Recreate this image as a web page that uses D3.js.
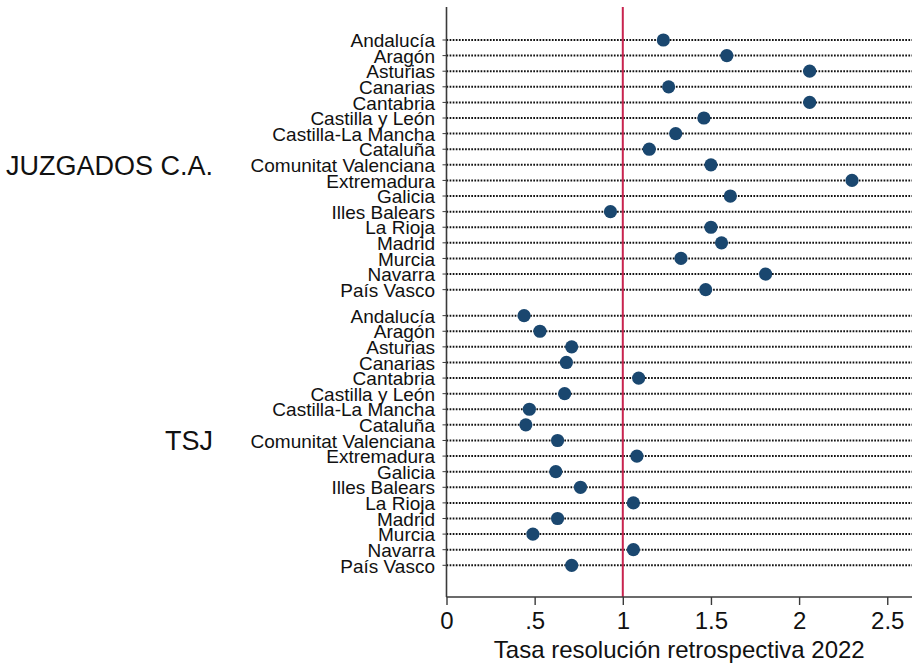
<!DOCTYPE html>
<html>
<head>
<meta charset="utf-8">
<script src="https://cdn.jsdelivr.net/npm/d3@7"></script>
<style>
  html, body { margin: 0; padding: 0; background: #fff; }
  svg { display: block; font-family: "Liberation Sans", Arial, Helvetica, sans-serif; }
</style>
</head>
<body>
<svg id="chart" width="912" height="663"></svg>
<script>
// Comunidades autónomas, same order in both groups
const regions = [
  "Andalucía", "Aragón", "Asturias", "Canarias", "Cantabria",
  "Castilla y León", "Castilla-La Mancha", "Cataluña",
  "Comunitat Valenciana", "Extremadura", "Galicia", "Illes Balears",
  "La Rioja", "Madrid", "Murcia", "Navarra", "País Vasco"
];
const groups = ["JUZGADOS C.A.", "TSJ"];

// Tasa de resolución retrospectiva 2022
const juzgadosValues = [
  1.23, 1.59, 2.06, 1.26, 2.06, 1.46, 1.30, 1.15,
  1.50, 2.30, 1.61, 0.93, 1.50, 1.56, 1.33, 1.81, 1.47
];
const tsjValues = [
  0.44, 0.53, 0.71, 0.68, 1.09, 0.67, 0.47, 0.45,
  0.63, 1.08, 0.62, 0.76, 1.06, 0.63, 0.49, 1.06, 0.71
];

const xTicks = [0, 0.5, 1, 1.5, 2, 2.5];
const xTickLabels = ["0", ".5", "1", "1.5", "2", "2.5"];
const referenceValue = 1;
const xTitle = "Tasa resolución retrospectiva 2022";

const svg = d3.select("#chart");
const plot = { left: 446.5, right: 912, top: 7, bottom: 597 };

const x = d3.scaleLinear().domain([0, 2.64]).range([plot.left, plot.left + 2.64 * 176.3]);

// Row slots: the second group starts after a small gap
const gapSlots = 1.667;
const rows = [];
groups.forEach((g, gi) => {
  const vals = gi === 0 ? juzgadosValues : tsjValues;
  regions.forEach((r, i) => {
    rows.push({ group: g, gi, region: r, value: vals[i],
                slot: gi * (regions.length - 1 + gapSlots) + i });
  });
});
const maxSlot = d3.max(rows, d => d.slot);
const y = d3.scaleLinear().domain([0, maxSlot]).range([40, 565.3]);

// Dotted guide lines
svg.append("g").selectAll("line").data(rows).join("line")
  .attr("x1", plot.left).attr("x2", plot.right)
  .attr("y1", d => y(d.slot)).attr("y2", d => y(d.slot))
  .attr("stroke", "#111")
  .attr("stroke-width", 2)
  .attr("stroke-dasharray", "1.7 1.4");

// Reference line at 1
svg.append("line")
  .attr("x1", x(referenceValue)).attr("x2", x(referenceValue))
  .attr("y1", plot.top).attr("y2", plot.bottom)
  .attr("stroke", "#c8244f").attr("stroke-width", 2);

// Markers
svg.append("g").selectAll("circle").data(rows).join("circle")
  .attr("cx", d => x(d.value))
  .attr("cy", d => y(d.slot))
  .attr("r", 6.6)
  .attr("fill", "#1a476f");

// Y axis line and small ticks
svg.append("line")
  .attr("x1", plot.left).attr("x2", plot.left)
  .attr("y1", plot.top).attr("y2", plot.bottom)
  .attr("stroke", "#3a3a3a").attr("stroke-width", 1.6);
svg.append("g").selectAll("line").data(rows).join("line")
  .attr("x1", plot.left - 4).attr("x2", plot.left)
  .attr("y1", d => y(d.slot)).attr("y2", d => y(d.slot))
  .attr("stroke", "#3a3a3a").attr("stroke-width", 1);

// Row labels
svg.append("g").selectAll("text").data(rows).join("text")
  .attr("x", 435)
  .attr("y", d => y(d.slot) + 7.2)
  .attr("text-anchor", "end")
  .attr("font-size", 19)
  .attr("fill", "#111")
  .text(d => d.region);

// Group labels, centred on their block of rows
svg.append("g").selectAll("text").data(groups).join("text")
  .attr("x", 213)
  .attr("y", (g, gi) => {
    const s = rows.filter(r => r.gi === gi);
    return (y(s[0].slot) + y(s[s.length - 1].slot)) / 2 + 10;
  })
  .attr("text-anchor", "end")
  .attr("font-size", 27)
  .attr("fill", "#111")
  .text(g => g);

// X axis
const xAxis = d3.axisBottom(x)
  .tickValues(xTicks)
  .tickFormat((d, i) => xTickLabels[i])
  .tickSize(8)
  .tickPadding(7)
  .tickSizeOuter(0);
const gx = svg.append("g")
  .attr("transform", `translate(0,${plot.bottom})`)
  .call(xAxis);
gx.select(".domain").remove();
gx.append("line")
  .attr("x1", plot.left).attr("x2", plot.right)
  .attr("stroke", "#3a3a3a").attr("stroke-width", 1.6);
gx.selectAll(".tick line").attr("stroke", "#3a3a3a").attr("stroke-width", 1.4);
gx.selectAll(".tick text")
  .attr("font-size", 24)
  .attr("font-family", "'Liberation Sans', Arial, sans-serif")
  .attr("fill", "#111");

svg.append("text")
  .attr("x", (plot.left + plot.right) / 2)
  .attr("y", 658)
  .attr("text-anchor", "middle")
  .attr("font-size", 24)
  .attr("fill", "#111")
  .text(xTitle);
</script>
</body>
</html>
